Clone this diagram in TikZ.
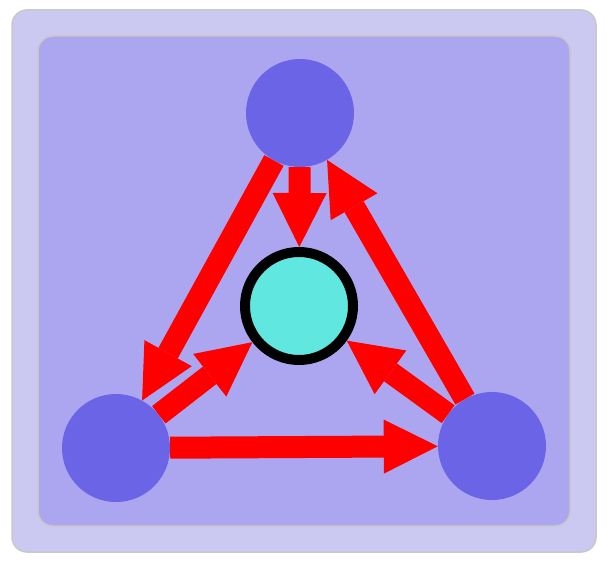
\documentclass[tikz,border=0pt]{standalone}
\usetikzlibrary{arrows.meta}
\definecolor{outerbg}{RGB}{203,200,242}
\definecolor{innerbg}{RGB}{172,166,240}
\definecolor{nodecol}{RGB}{108,100,230}
\definecolor{centcol}{RGB}{96,232,224}
\definecolor{framecol}{RGB}{200,200,200}
\tikzset{
  outerfield/.style={fill=outerbg,draw=framecol,line width=1.5pt,rounded corners=15pt},
  innerfield/.style={fill=innerbg,draw=framecol,line width=1.5pt,rounded corners=15pt},
  peer/.style={circle,fill=nodecol,minimum size=108pt,inner sep=0pt},
  hub/.style={circle,fill=centcol,draw=black,line width=10pt,minimum size=108pt,inner sep=0pt},
  bigarrow/.style={draw=red,line width=22pt,-{Triangle[length=54pt,width=54pt,line width=0pt 0]}}
}
\begin{document}
\begin{tikzpicture}[x=1pt,y=-1pt]
\useasboundingbox (0,0) rectangle (607,567);
\path[outerfield] (12,10) rectangle (596,552);
\path[innerfield] (38,36) rectangle (570,526);
\node[peer] (top) at (300,113) {};
\node[peer] (bl) at (116,448) {};
\node[peer] (br) at (492,446) {};
\node[hub] (c) at (299,306) {};
\draw[bigarrow] (top) -- (bl);
\draw[bigarrow] (top) -- (c);
\draw[bigarrow] (br) -- (top);
\draw[bigarrow] (bl) -- (br);
\draw[bigarrow] (bl) -- (c);
\draw[bigarrow] (br) -- (c);
\end{tikzpicture}
\end{document}
